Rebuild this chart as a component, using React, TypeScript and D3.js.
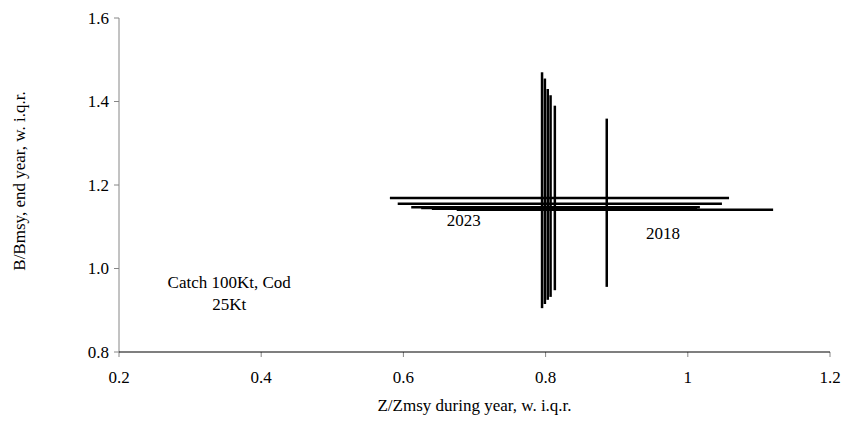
import React from "react";
import * as d3 from "d3";

// Median-with-interquartile-range crosses, one per year
const years = [2018, 2019, 2020, 2021, 2022, 2023];
// Z/Zmsy: median and inter-quartile range
const zMedian = [0.886, 0.813, 0.807, 0.803, 0.799, 0.795];
const zLow = [0.675, 0.64, 0.625, 0.611, 0.592, 0.581];
const zHigh = [1.12, 1.01, 1.013, 1.017, 1.048, 1.058];
// B/Bmsy: median and inter-quartile range
const bMedian = [1.141, 1.143, 1.145, 1.147, 1.155, 1.169];
const bLow = [0.956, 0.948, 0.932, 0.925, 0.915, 0.905];
const bHigh = [1.359, 1.39, 1.415, 1.43, 1.455, 1.47];

const xTicks = [0.2, 0.4, 0.6, 0.8, 1, 1.2];
const yTicks = [0.8, 1.0, 1.2, 1.4, 1.6];
const xTickLabels = ["0.2", "0.4", "0.6", "0.8", "1", "1.2"];
const yTickLabels = ["0.8", "1.0", "1.2", "1.4", "1.6"];

const yearLabels = [
  { text: "2023", x: 0.685, y: 1.115 },
  { text: "2018", x: 0.965, y: 1.085 },
];
const noteLines = ["Catch 100Kt, Cod", "25Kt"];

const W = 851;
const H = 432;
const m = { left: 119, right: 21, top: 18, bottom: 80 };

export default function App() {
  const x = d3.scaleLinear().domain([0.2, 1.2]).range([m.left, W - m.right]);
  const y = d3.scaleLinear().domain([0.8, 1.6]).range([H - m.bottom, m.top]);
  const font = "Liberation Serif, Times New Roman, serif";

  return (
    <svg
      width={W}
      height={H}
      style={{ position: "absolute", left: 0, top: 0, background: "#fff", fontFamily: font }}
    >
      {/* y axis */}
      <line x1={x(0.2)} x2={x(0.2)} y1={y(1.6)} y2={y(0.8)} stroke="#868686" strokeWidth={1} />
      {yTicks.map((t, i) => (
        <g key={t}>
          <line x1={x(0.2) - 5} x2={x(0.2)} y1={y(t)} y2={y(t)} stroke="#868686" />
          <text x={x(0.2) - 10} y={y(t)} dy="0.35em" textAnchor="end" fontSize={17} fill="#000">
            {yTickLabels[i]}
          </text>
        </g>
      ))}
      {/* x axis */}
      {xTicks.map((t, i) => (
        <g key={t}>
          <line x1={x(t)} x2={x(t)} y1={y(0.8)} y2={y(0.8) + 5} stroke="#868686" />
          <text x={x(t)} y={y(0.8) + 31} textAnchor="middle" fontSize={17} fill="#000">
            {xTickLabels[i]}
          </text>
        </g>
      ))}
      <line x1={x(0.2)} x2={x(1.2)} y1={y(0.8)} y2={y(0.8)} stroke="#000" strokeWidth={1.2} />

      {/* crosses */}
      {years.map((yr, i) => (
        <g key={yr} stroke="#000" strokeWidth={2.5}>
          <line x1={x(zLow[i])} x2={x(zHigh[i])} y1={y(bMedian[i])} y2={y(bMedian[i])} />
          <line x1={x(zMedian[i])} x2={x(zMedian[i])} y1={y(bLow[i])} y2={y(bHigh[i])} />
        </g>
      ))}

      {yearLabels.map((l) => (
        <text key={l.text} x={x(l.x)} y={y(l.y)} dy="0.35em" textAnchor="middle" fontSize={17}>
          {l.text}
        </text>
      ))}
      <text x={x(0.355)} y={288} textAnchor="middle" fontSize={17}>
        {noteLines.map((s, i) => (
          <tspan key={s} x={x(0.355)} dy={i === 0 ? 0 : 22}>
            {s}
          </tspan>
        ))}
      </text>

      {/* axis titles */}
      <text x={(x(0.2) + x(1.2)) / 2} y={411} textAnchor="middle" fontSize={17}>
        Z/Zmsy during year, w. i.q.r.
      </text>
      <text
        transform={`translate(19, ${(y(0.8) + y(1.6)) / 2 - 4}) rotate(-90)`}
        dy="0.35em"
        textAnchor="middle"
        fontSize={17}
      >
        B/Bmsy, end year, w. i.q.r.
      </text>
    </svg>
  );
}
